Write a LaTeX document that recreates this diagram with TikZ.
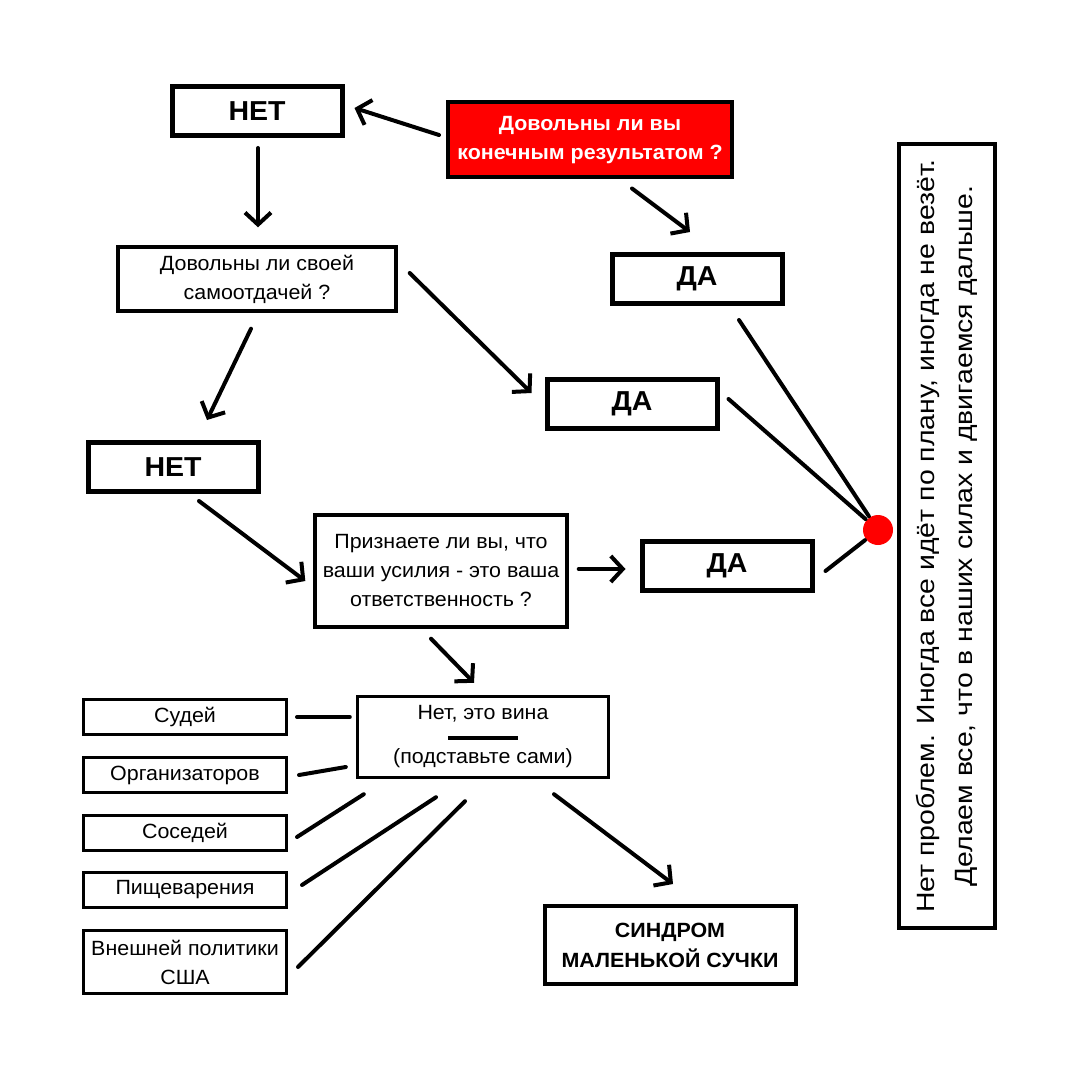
\documentclass[tikz,border=0pt]{standalone}
\usepackage{fontspec}
\setmainfont[FakeStretch=1.04]{Liberation Sans}
\newfontfamily\widefont[FakeStretch=1.136]{Liberation Sans}
\usetikzlibrary{arrows.meta,calc}

\begin{document}
\begin{tikzpicture}[
    x=0.5pt, y=-0.5pt,
    line cap=round,
    every node/.style={draw, line width=1.5pt, align=center, inner sep=1pt,
        font=\fontsize{10.3}{14.5}\selectfont},
    answer/.style={line width=2.5pt, minimum width=85pt, minimum height=24.5pt,
        font=\fontsize{13.7}{15}\selectfont\bfseries},
    question/.style={line width=1.7pt},
    item/.style={line width=1.5pt, minimum width=101.5pt, minimum height=17.5pt},
    conn/.style={line width=2pt},
    arr/.style={line width=2pt, -{Straight Barb[length=6pt,width=13pt]}}
]
\useasboundingbox (0,0) rectangle (1080,1080);

% questions
\node[question, fill=red, text=white, font=\fontsize{10.3}{14.5}\selectfont\bfseries,
    line width=2pt, minimum width=142pt, minimum height=37.5pt] (red) at (590,140)
    {Довольны ли вы\\конечным результатом ?};
\node[question, minimum width=139pt, minimum height=32pt] (dov) at (257,279)
    {Довольны ли своей\\самоотдачей ?};
\node[question, minimum width=126pt, minimum height=56pt] (pri) at (441,571)
    {Признаете ли вы, что\\ваши усилия - это ваша\\ответственность ?};
\node[question, minimum width=125.5pt, minimum height=40.5pt] (vina) at (483,737)
    {Нет, это вина\\[-3.5pt]\rule[1pt]{35pt}{2pt}\\[-3.5pt](подставьте сами)};

% answers
\node[answer] (net1) at (257,111) {НЕТ};
\node[answer] (da1) at (697,279) {ДА};
\node[answer] (da2) at (632,404) {ДА};
\node[answer] (net2) at (173,467) {НЕТ};
\node[answer] (da3) at (727,566) {ДА};

% who is to blame
\node[item] (sud) at (185,717) {Судей};
\node[item] (org) at (185,775) {Организаторов};
\node[item] (sos) at (185,833) {Соседей};
\node[item] (pis) at (185,890) {Пищеварения};
\node[item, minimum height=31.5pt] (vne) at (185,962) {Внешней политики\\США};

\node[line width=2pt, minimum width=125.5pt, minimum height=39pt,
    font=\fontsize{10.3}{15}\selectfont\bfseries] (sindrom) at (670,945)
    {СИНДРОМ\\МАЛЕНЬКОЙ СУЧКИ};

\node[line width=2pt, rotate=90, minimum width=391.5pt, minimum height=48pt,
    font=\widefont\fontsize{12.5}{19}\selectfont] (itog) at (947,536)
    {Нет проблем. Иногда все идёт по плану, иногда не везёт.\\
     Делаем все, что в наших силах и двигаемся дальше.};

\node[draw=none, circle, fill=red, minimum size=15pt, inner sep=0pt] (hub) at (878,530) {};

% arrows
\draw[arr] ($(red.west)+(-7,-5)$) -- ($(net1.east)+(10,-3)$);
\draw[arr] ($(red.south)+(42,9)$) -- ($(da1.north)+(-7,-20)$);
\draw[arr] ($(net1.south)+(1,10)$) -- ($(dov.north)+(1,-18)$);
\draw[arr] ($(dov.east)+(12,-6)$) -- ($(da2.west)+(-13,-11)$);
\draw[arr] ($(dov.south)+(-6,16)$) -- ($(net2.north)+(34,-20)$);
\draw[arr] ($(net2.south)+(26,7)$) -- ($(pri.west)+(-8,10)$);
\draw[arr] ($(pri.east)+(10,-2)$) -- ($(da3.west)+(-14,3)$);
\draw[arr] ($(pri.south)+(-10,10)$) -- ($(vina.north)+(-9,-12)$);
\draw[arr] ($(vina.south)+(71,15)$) -- ($(sindrom.north)+(3,-20)$);

% lines to the dot
\draw[conn] ($(da1.south)+(42,14)$) -- (hub);
\draw[conn] ($(da2.east)+(9,-5)$) -- (hub);
\draw[conn] ($(da3.east)+(11,5)$) -- (hub);

% lines to the blame box
\draw[conn] ($(sud.east)+(9,0)$) -- ($(vina.west)+(-6,-20)$);
\draw[conn] ($(org.east)+(11,0)$) -- ($(vina.west)+(-10,30)$);
\draw[conn] ($(sos.east)+(9,4)$) -- ($(vina.south west)+(8,15)$);
\draw[conn] ($(pis.east)+(14,-5)$) -- ($(vina.south)+(-47,18)$);
\draw[conn] ($(vne.east)+(10,5)$) -- ($(vina.south)+(-18,22)$);
\end{tikzpicture}
\end{document}
